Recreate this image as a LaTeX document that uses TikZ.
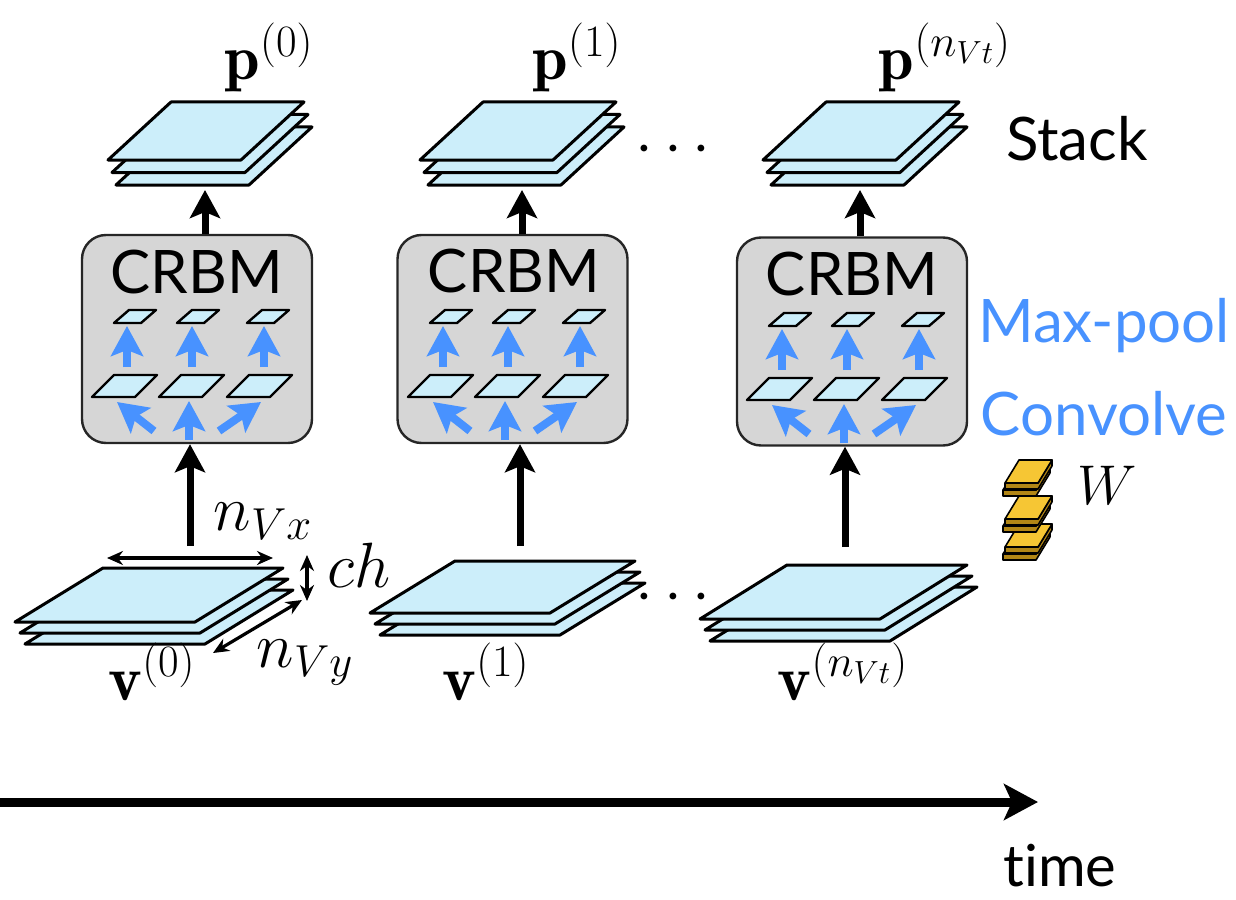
\RequirePackage{fix-cm}
\documentclass[tikz,border=0pt]{standalone}
\usepackage{fontspec}
\newfontfamily\gillfont[Ligatures=NoCommon]{Lato}
\usetikzlibrary{arrows.meta}

\definecolor{platecyan}{RGB}{204,238,250}
\definecolor{boxgray}{RGB}{214,214,214}
\definecolor{convblue}{RGB}{72,146,255}
\definecolor{wgold}{RGB}{246,198,52}
\definecolor{wdark}{RGB}{178,134,22}

% one flat plate: bottom-left x, y, width, skew, depth
\newcommand{\slab}[5]{%
  \draw[plate] (#1,#2) -- ++(#3,0) -- ++(#4,-#5) -- ++(-#3,0) -- cycle;}
% three plates, back one first
\newcommand{\platestack}[7]{%
  \foreach \k in {2,1,0}
    \slab{#1+\k*#6}{#2+\k*#7}{#3}{#4}{#5};}
% one gold slab of the filter stack
\newcommand{\wslab}[2]{%
  \draw[wside] (#1,#2) -- ++(33,0) -- ++(14,-23) -- ++(0,6) -- ++(-14,23) -- ++(-33,0) -- cycle;
  \draw[wtop] (#1,#2) -- ++(33,0) -- ++(14,-23) -- ++(-33,0) -- cycle;}
% plates and blue arrows inside a CRBM box (box left, box top)
\newcommand{\crbminside}[2]{%
  \begin{scope}[shift={(#1,#2)}, plate/.append style={line width=1.2pt}]
    \foreach \sx in {32,95,165} \slab{\sx}{88}{27}{15}{13};
    \foreach \lx in {10,77,145} \slab{\lx}{162}{43}{22}{22};
    \foreach \ax in {45,110,182} \draw[bluearrow] (\ax,132) -- (\ax,91);
    \draw[bluearrow] (107,205) -- (107,166);
    \draw[bluearrow] (72,196) -- (35,167);
    \draw[bluearrow] (137,196) -- (179,167);
  \end{scope}}

\begin{document}
\begin{tikzpicture}[x=0.5pt,y=-0.5pt,
    plate/.style={draw=black, fill=platecyan, line width=1.5pt, line join=round},
    crbmbox/.style={draw=black!85, fill=boxgray, line width=1.2pt, rounded corners=12pt,
      minimum width=115pt, minimum height=104pt, inner sep=0pt},
    mainarrow/.style={line width=3.5pt, -{Stealth[length=14pt,width=15pt,inset=3pt]}},
    timearrow/.style={line width=4.5pt, -{Stealth[length=17pt,width=18pt,inset=4pt]}},
    bluearrow/.style={draw=convblue, line width=4pt,
      -{Stealth[length=15pt,width=16pt,inset=3pt]}},
    dimarrow/.style={line width=1.6pt,
      {Stealth[length=8pt,width=7pt]}-{Stealth[length=8pt,width=7pt]}},
    wside/.style={fill=wdark, draw=black, line width=0.8pt, line join=round},
    wtop/.style={fill=wgold, draw=black, line width=0.8pt, line join=round},
    mlabel/.style={font=\fontsize{32}{38}\selectfont, anchor=base, inner sep=0pt},
    sanslabel/.style={font=\gillfont\fontsize{30}{36}\selectfont, anchor=base, inner sep=0pt}]

  \useasboundingbox (0,0) rectangle (1236,899);

  % output stacks
  \platestack{108}{160}{133}{63}{58}{4}{12.5}
  \platestack{420}{160}{133}{63}{58}{4}{12.5}
  \platestack{763}{160}{133}{63}{58}{4}{12.5}

  \node[mlabel] (p0) at (269,80) {$\mathbf{p}^{(0)}$};
  \node[mlabel] (p1) at (577,80) {$\mathbf{p}^{(1)}$};
  \node[mlabel] (pn) at (945,80) {$\mathbf{p}^{(n_{Vt})}$};
  \node (dtop) at (673,150) {\fontsize{32}{38}\selectfont$\cdots$};
  \node[sanslabel] (stack) at (1077,160) {Stack};

  % CRBM boxes
  \node[crbmbox] (box1) at (197,339) {};
  \node[crbmbox] (box2) at (512.5,339) {};
  \node[crbmbox] (box3) at (852,341.5) {};
  \crbminside{82}{235}
  \crbminside{398}{235}
  \crbminside{737}{238}
  \node[sanslabel] (c1) at (197,293) {CRBM};
  \node[sanslabel] (c2) at (514,292) {CRBM};
  \node[sanslabel] (c3) at (852,295) {CRBM};

  \node[sanslabel, text=convblue] (maxpool) at (1104,342) {Max-pool};
  \node[sanslabel, text=convblue] (convolve) at (1104,435) {Convolve};

  % arrows up to the stacks
  \coordinate (pin1) at (205,190);
  \coordinate (pin2) at (522,190);
  \coordinate (pin3) at (860,190);
  \draw[mainarrow] (pin1 |- box1.north) -- (pin1);
  \draw[mainarrow] (pin2 |- box2.north) -- (pin2);
  \draw[mainarrow] (pin3 |- box3.north) -- (pin3);

  % arrows from the inputs
  \coordinate (vout1) at (190,546);
  \coordinate (vout2) at (520,546);
  \coordinate (vout3) at (845,547);
  \draw[mainarrow] (vout1) -- (vout1 |- box1.south);
  \draw[mainarrow] (vout2) -- (vout2 |- box2.south);
  \draw[mainarrow] (vout3) -- (vout3 |- box3.south);

  % filters
  \foreach \wy in {547,519,483} {
    \wslab{1003}{\wy+7}
    \wslab{1005}{\wy}
  }
  \node[mlabel, font=\fontsize{28}{34}\selectfont] (w) at (1107,504) {$W$};

  % input stacks
  \platestack{15}{622}{180}{88}{54}{5}{11}
  \platestack{370}{613}{180}{85}{52}{5}{11}
  \platestack{700}{619}{180}{87}{54}{5}{11}
  \node (dbot) at (673,598) {\fontsize{32}{38}\selectfont$\cdots$};

  \node[mlabel] (v0) at (152,700) {$\mathbf{v}^{(0)}$};
  \node[mlabel] (v1) at (486,700) {$\mathbf{v}^{(1)}$};
  \node[mlabel] (vn) at (843,700) {$\mathbf{v}^{(n_{Vt})}$};

  % sizes of the first input
  \coordinate (xa) at (107,558);
  \coordinate (xb) at (273,558);
  \coordinate (ca) at (307,555);
  \coordinate (cb) at (307,601);
  \coordinate (ya) at (213,653);
  \coordinate (yb) at (302,600);
  \draw[dimarrow] (xa) -- (xb);
  \draw[dimarrow] (ca) -- (cb);
  \draw[dimarrow] (ya) -- (yb);
  \node[mlabel] (nx) at (263,530) {$n_{Vx}$};
  \node[mlabel] (ch) at (359,587) {$ch$};
  \node[mlabel] (ny) at (305,667) {$n_{Vy}$};

  % time axis
  \coordinate (t0) at (0,802);
  \coordinate (t1) at (1038,802);
  \draw[timearrow] (t0) -- (t1);
  \node[sanslabel, font=\gillfont\fontsize{29}{35}\selectfont] (time) at (1060,886) {time};

\end{tikzpicture}
\end{document}
